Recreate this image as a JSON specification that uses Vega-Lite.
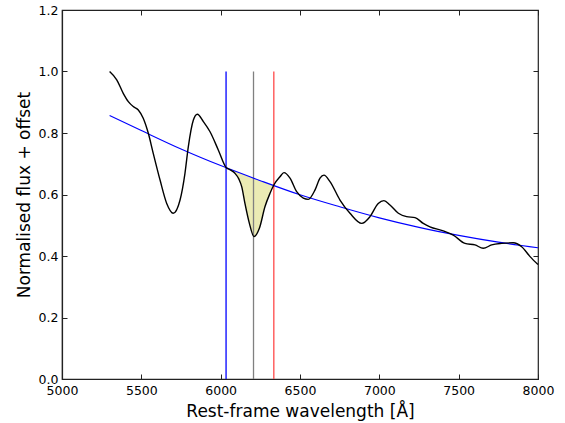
{
  "$schema": "https://vega.github.io/schema/vega-lite/v6.json",
  "width": 476,
  "height": 369,
  "autosize": {"type": "none"},
  "padding": {"left": 62, "top": 10, "right": 27, "bottom": 44},
  "background": "white",
  "config": {
    "font": "DejaVu Sans",
    "view": {"stroke": "#222222", "strokeWidth": 1.2},
    "axis": {
      "grid": false,
      "domainColor": "#222222",
      "domainWidth": 1.2,
      "tickColor": "#222222",
      "tickSize": -5,
      "labelFont": "DejaVu Sans",
      "labelFontSize": 12.5,
      "labelColor": "black",
      "titleFont": "DejaVu Sans",
      "titleFontSize": 17,
      "titleFontWeight": "normal",
      "titleColor": "black"
    }
  },
  "datasets": {
    "spectrum": [
      {"wl": 5300, "f": 1.000}, {"wl": 5345, "f": 0.973}, {"wl": 5386, "f": 0.929}, {"wl": 5418, "f": 0.902},
      {"wl": 5449, "f": 0.886}, {"wl": 5481, "f": 0.875}, {"wl": 5512, "f": 0.848}, {"wl": 5544, "f": 0.799},
      {"wl": 5575, "f": 0.734}, {"wl": 5618, "f": 0.647}, {"wl": 5660, "f": 0.571}, {"wl": 5701, "f": 0.539},
      {"wl": 5744, "f": 0.582}, {"wl": 5775, "f": 0.669}, {"wl": 5796, "f": 0.755}, {"wl": 5828, "f": 0.842},
      {"wl": 5853, "f": 0.861}, {"wl": 5891, "f": 0.837}, {"wl": 5933, "f": 0.804}, {"wl": 5985, "f": 0.745},
      {"wl": 6034, "f": 0.688}, {"wl": 6060, "f": 0.680}, {"wl": 6090, "f": 0.669}, {"wl": 6115, "f": 0.650},
      {"wl": 6133, "f": 0.625}, {"wl": 6153, "f": 0.571}, {"wl": 6181, "f": 0.506}, {"wl": 6210, "f": 0.463},
      {"wl": 6244, "f": 0.490}, {"wl": 6279, "f": 0.560}, {"wl": 6311, "f": 0.604}, {"wl": 6335, "f": 0.631},
      {"wl": 6374, "f": 0.658}, {"wl": 6399, "f": 0.671}, {"wl": 6437, "f": 0.653}, {"wl": 6479, "f": 0.609},
      {"wl": 6521, "f": 0.588}, {"wl": 6552, "f": 0.584}, {"wl": 6595, "f": 0.615}, {"wl": 6626, "f": 0.653},
      {"wl": 6651, "f": 0.663}, {"wl": 6689, "f": 0.642}, {"wl": 6752, "f": 0.582}, {"wl": 6815, "f": 0.539},
      {"wl": 6889, "f": 0.506}, {"wl": 6941, "f": 0.528}, {"wl": 6993, "f": 0.571}, {"wl": 7029, "f": 0.580},
      {"wl": 7067, "f": 0.566}, {"wl": 7120, "f": 0.539}, {"wl": 7172, "f": 0.528}, {"wl": 7225, "f": 0.525},
      {"wl": 7277, "f": 0.506}, {"wl": 7319, "f": 0.495}, {"wl": 7403, "f": 0.482}, {"wl": 7466, "f": 0.468},
      {"wl": 7540, "f": 0.441}, {"wl": 7603, "f": 0.436}, {"wl": 7655, "f": 0.425}, {"wl": 7708, "f": 0.436},
      {"wl": 7771, "f": 0.441}, {"wl": 7844, "f": 0.443}, {"wl": 7897, "f": 0.430}, {"wl": 7950, "f": 0.398},
      {"wl": 8000, "f": 0.372}
    ],
    "continuum": [
      {"wl": 5300, "c": 0.857}, {"wl": 5500, "c": 0.808}, {"wl": 5750, "c": 0.748}, {"wl": 6000, "c": 0.694},
      {"wl": 6250, "c": 0.645}, {"wl": 6500, "c": 0.599}, {"wl": 6750, "c": 0.560}, {"wl": 7000, "c": 0.524},
      {"wl": 7250, "c": 0.493}, {"wl": 7500, "c": 0.467}, {"wl": 7750, "c": 0.445}, {"wl": 8000, "c": 0.427}
    ],
    "fill": [
      {"wl": 6034, "f": 0.688, "c": 0.688}, {"wl": 6060, "f": 0.680, "c": 0.683}, {"wl": 6090, "f": 0.669, "c": 0.677},
      {"wl": 6115, "f": 0.650, "c": 0.672}, {"wl": 6133, "f": 0.625, "c": 0.668}, {"wl": 6153, "f": 0.571, "c": 0.664},
      {"wl": 6181, "f": 0.506, "c": 0.658}, {"wl": 6210, "f": 0.463, "c": 0.652}, {"wl": 6244, "f": 0.490, "c": 0.646},
      {"wl": 6279, "f": 0.560, "c": 0.640}, {"wl": 6311, "f": 0.604, "c": 0.635}, {"wl": 6335, "f": 0.631, "c": 0.631}
    ],
    "vlines": [
      {"wl": 6034, "name": "blue", "y0": 0, "y1": 1.0},
      {"wl": 6207, "name": "gray", "y0": 0, "y1": 1.0},
      {"wl": 6335, "name": "red", "y0": 0, "y1": 1.0}
    ]
  },
  "resolve": {"axis": {"x": "independent", "y": "independent"}},
  "layer": [
    {
      "data": {"name": "fill"},
      "mark": {"type": "area", "color": "#ebebb4", "interpolate": "monotone"},
      "encoding": {
        "x": {"field": "wl", "type": "quantitative",
              "scale": {"domain": [5000, 8000], "nice": false, "zero": false},
              "axis": {"orient": "bottom", "title": "Rest-frame wavelength [Å]", "values": [5000, 5500, 6000, 6500, 7000, 7500, 8000], "format": "d", "labelPadding": 10, "titlePadding": 7, "labelFlush": false}},
        "y": {"field": "f", "type": "quantitative",
              "scale": {"domain": [0, 1.2], "nice": false, "zero": false},
              "axis": {"orient": "left", "title": "Normalised flux + offset", "values": [0, 0.2, 0.4, 0.6, 0.8, 1.0, 1.2], "format": ".1f", "labelPadding": 9, "titlePadding": 5}},
        "y2": {"field": "c"}
      }
    },
    {
      "data": {"name": "vlines"},
      "mark": {"type": "rule", "strokeWidth": 1.3},
      "encoding": {
        "x": {"field": "wl", "type": "quantitative",
              "axis": {"orient": "top", "labels": false, "title": null, "values": [5000, 5500, 6000, 6500, 7000, 7500, 8000], "domain": false}},
        "y": {"field": "y0", "type": "quantitative",
              "axis": {"orient": "right", "labels": false, "title": null, "values": [0, 0.2, 0.4, 0.6, 0.8, 1.0, 1.2], "domain": false}},
        "y2": {"field": "y1"},
        "color": {"field": "name", "type": "nominal",
                  "scale": {"domain": ["blue", "gray", "red"], "range": ["#0000ff", "#808080", "#ff4a4a"]},
                  "legend": null}
      }
    },
    {
      "data": {"name": "continuum"},
      "mark": {"type": "line", "color": "#0000ff", "strokeWidth": 1.1, "interpolate": "monotone"},
      "encoding": {
        "x": {"field": "wl", "type": "quantitative", "axis": null},
        "y": {"field": "c", "type": "quantitative", "axis": null}
      }
    },
    {
      "data": {"name": "spectrum"},
      "mark": {"type": "line", "color": "black", "strokeWidth": 1.4, "interpolate": "monotone"},
      "encoding": {
        "x": {"field": "wl", "type": "quantitative", "axis": null},
        "y": {"field": "f", "type": "quantitative", "axis": null}
      }
    }
  ]
}
